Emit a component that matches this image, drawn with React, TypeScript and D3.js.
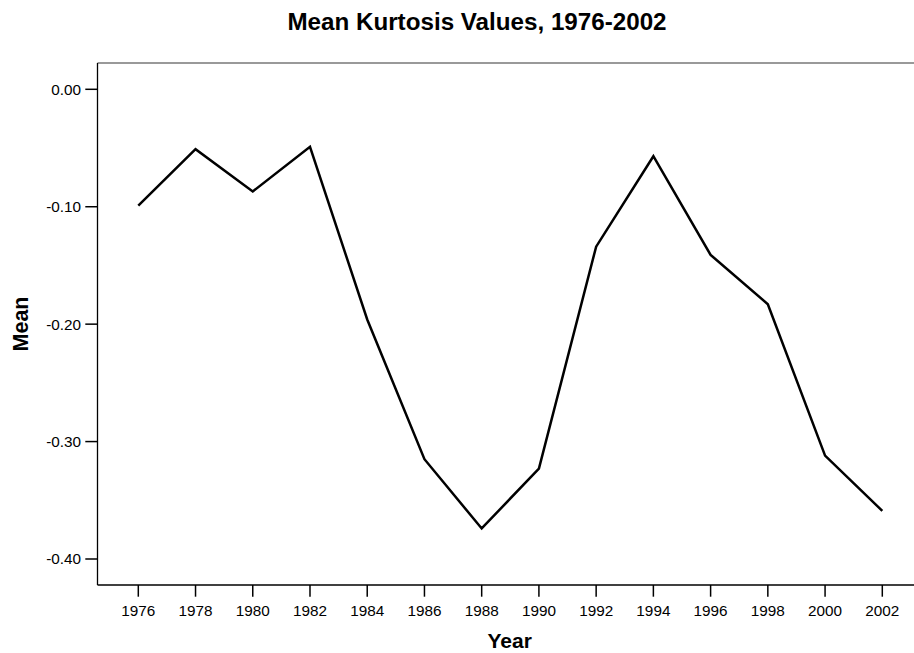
import * as d3 from "d3";

const WIDTH = 914;
const HEIGHT = 653;

const years = [1976, 1978, 1980, 1982, 1984, 1986, 1988, 1990, 1992, 1994, 1996, 1998, 2000, 2002];
const means = [-0.099, -0.051, -0.087, -0.049, -0.196, -0.315, -0.374, -0.323, -0.134, -0.057, -0.141, -0.183, -0.312, -0.359];
const yTicks = [0, -0.1, -0.2, -0.3, -0.4];

const FONT = "'Liberation Sans', Arial, sans-serif";

// plot frame
const FRAME = { left: 97.5, right: 914, top: 63, bottom: 585 };

const App = () => {
  const xScale = d3.scaleLinear().domain([1976, 2002]).range([138.3, 882.3]);
  const yScale = d3.scaleLinear().domain([-0.4, 0]).range([559, 89.3]);

  const line = d3
    .line<number>()
    .x((_, i) => xScale(years[i]))
    .y((d) => yScale(d));

  return (
    <svg
      width={WIDTH}
      height={HEIGHT}
      style={{ position: "absolute", left: 0, top: 0, background: "white" }}
      fontFamily={FONT}
    >
      <text x={477} y={30} textAnchor="middle" fontSize={24.2} fontWeight="bold" fill="#000">
        Mean Kurtosis Values, 1976-2002
      </text>

      {/* frame */}
      <line x1={FRAME.left} x2={FRAME.right} y1={FRAME.top} y2={FRAME.top} stroke="#777" strokeWidth={1.5} />
      <line x1={FRAME.left} x2={FRAME.left} y1={FRAME.top} y2={FRAME.bottom} stroke="#000" strokeWidth={1.3} />
      <line x1={FRAME.left} x2={FRAME.right} y1={FRAME.bottom} y2={FRAME.bottom} stroke="#000" strokeWidth={1.3} />

      {/* y axis */}
      {yTicks.map((t) => (
        <g key={t} transform={`translate(0,${yScale(t)})`}>
          <line x1={85.3} x2={FRAME.left} stroke="#000" strokeWidth={1.5} />
          <text x={81} dy="0.35em" textAnchor="end" fontSize={15.3} fill="#000">
            {t.toFixed(2)}
          </text>
        </g>
      ))}

      {/* x axis */}
      {years.map((y) => (
        <g key={y} transform={`translate(${xScale(y)},0)`}>
          <line y1={FRAME.bottom} y2={596.7} stroke="#000" strokeWidth={1.5} />
          <text y={616} textAnchor="middle" fontSize={15.3} fill="#000">
            {y}
          </text>
        </g>
      ))}

      <text x={509.7} y={648} textAnchor="middle" fontSize={21} fontWeight="bold" fill="#000">
        Year
      </text>
      <text
        transform={`translate(28.3,${(FRAME.top + FRAME.bottom) / 2}) rotate(-90)`}
        textAnchor="middle"
        fontSize={21.5}
        fontWeight="bold"
        fill="#000"
      >
        Mean
      </text>

      <path d={line(means) ?? ""} fill="none" stroke="#000" strokeWidth={2.5} strokeLinejoin="miter" />
    </svg>
  );
};

export default App;
